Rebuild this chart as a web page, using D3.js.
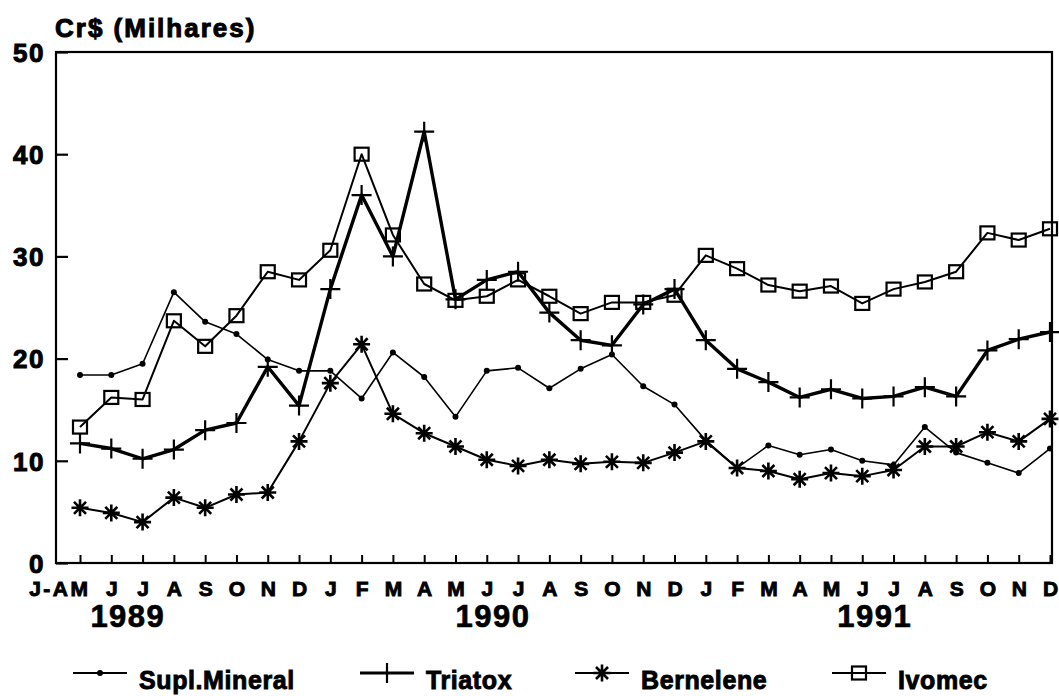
<!DOCTYPE html>
<html lang="pt">
  <head>
    <meta charset="UTF-8" />
    <title>Cr$ (Milhares)</title>
    <style>
      body { margin: 0; background: #fff; }
      text { font-family: "Liberation Sans", Arial, sans-serif; font-weight: bold; fill: #000; }
    </style>
  </head>
  <body>
    <svg width="1059" height="696" xmlns="http://www.w3.org/2000/svg"></svg>
    <script src="https://cdn.jsdelivr.net/npm/d3@7/dist/d3.min.js"></script>
    <script>
      // months from J-AM 1989 to D 1991
      const months = ["J-AM", "J", "J", "A", "S", "O", "N", "D",
        "J", "F", "M", "A", "M", "J", "J", "A", "S", "O", "N", "D",
        "J", "F", "M", "A", "M", "J", "J", "A", "S", "O", "N", "D"];
      const years = ["1989", "1990", "1991"];
      const yearPos = [1.53, 13.2, 25.4]; // in month units
      const yTicks = [0, 10, 20, 30, 40, 50];

      const suplMineral = [18.4, 18.4, 19.5, 26.5, 23.6, 22.4, 19.9, 18.8, 18.8, 16.1, 20.6, 18.2, 14.3, 18.8, 19.1, 17.1,
        19.0, 20.4, 17.3, 15.5, 12.0, 9.3, 11.5, 10.6, 11.1, 10.0, 9.6, 13.3, 10.8, 9.8, 8.8, 11.2];
      const triatox = [11.7, 11.2, 10.2, 11.1, 13.0, 13.7, 19.2, 15.4, 26.8, 36.0, 30.0, 42.2, 25.8, 27.7, 28.5, 24.5,
        21.8, 21.3, 25.3, 26.8, 21.8, 19.0, 17.7, 16.2, 17.0, 16.1, 16.3, 17.2, 16.3, 20.8, 21.9, 22.6];
      const bernelene = [5.4, 4.9, 4.0, 6.4, 5.4, 6.7, 6.9, 11.9, 17.6, 21.4, 14.6, 12.7, 11.4, 10.1, 9.5, 10.1,
        9.7, 9.9, 9.8, 10.8, 11.9, 9.3, 9.0, 8.2, 8.8, 8.5, 9.1, 11.4, 11.4, 12.8, 11.9, 14.1];
      const ivomec = [13.3, 16.2, 16.0, 23.7, 21.2, 24.2, 28.5, 27.7, 30.6, 40.0, 32.1, 27.3, 25.7, 26.1, 27.7, 26.1,
        24.4, 25.5, 25.5, 26.2, 30.1, 28.8, 27.2, 26.6, 27.1, 25.4, 26.8, 27.5, 28.5, 32.3, 31.6, 32.7];

      const seriesNames = ["Supl.Mineral", "Triatox", "Bernelene", "Ivomec"];

      const series = [
        { name: seriesNames[0], values: suplMineral, width: 1.6, marker: "dot" },
        { name: seriesNames[1], values: triatox, width: 3.4, marker: "plus" },
        { name: seriesNames[2], values: bernelene, width: 2, marker: "star" },
        { name: seriesNames[3], values: ivomec, width: 2, marker: "square" }
      ];

      const plotLeft = 56, plotRight = 1052, plotTop = 52, plotBottom = 563;
      const svg = d3.select("svg");

      const x = d3.scaleLinear().domain([0, months.length - 1]).range([80, 1050]);
      const y = d3.scaleLinear().domain([0, 50]).range([plotBottom, plotTop]);

      // frame
      svg.append("rect")
        .attr("x", plotLeft).attr("y", plotTop)
        .attr("width", plotRight - plotLeft).attr("height", plotBottom - plotTop)
        .attr("fill", "none").attr("stroke", "#000").attr("stroke-width", 2.2);

      // y axis
      const yAxis = svg.append("g")
        .attr("transform", `translate(${plotLeft},0)`)
        .call(d3.axisLeft(y).tickValues(yTicks).tickSizeInner(-12).tickSizeOuter(0).tickPadding(11));
      yAxis.select(".domain").remove();
      yAxis.selectAll("line").attr("stroke-width", 2.2);
      yAxis.selectAll("text")
        .attr("font-size", 26).attr("stroke", "#000").attr("stroke-width", 1)
        .attr("dy", "0.36em").attr("letter-spacing", 1.5)
        .style("font-family", "'Liberation Sans', Arial, sans-serif").style("font-weight", "bold");

      // x axis
      const xAxis = svg.append("g")
        .attr("transform", `translate(0,${plotBottom})`)
        .call(d3.axisBottom(x).tickValues(d3.range(months.length))
          .tickFormat(i => months[i]).tickSizeInner(-8).tickSizeOuter(0).tickPadding(18));
      xAxis.select(".domain").remove();
      xAxis.selectAll("line").attr("stroke-width", 2);
      xAxis.selectAll("text")
        .attr("font-size", 21).attr("stroke", "#000").attr("stroke-width", 0.9)
        .attr("letter-spacing", (d, i) => i === 0 ? 2.5 : 0)
        .style("font-family", "'Liberation Sans', Arial, sans-serif").style("font-weight", "bold")
        .attr("text-anchor", (d, i) => i === 0 ? "end" : "middle")
        .attr("dx", (d, i) => i === 0 ? 10 : 0);

      // year labels
      svg.selectAll(".year").data(years).join("text")
        .attr("class", "year")
        .attr("x", (d, i) => x(yearPos[i]))
        .attr("y", 627)
        .attr("text-anchor", "middle")
        .attr("font-size", 31).attr("letter-spacing", 1.5)
        .attr("stroke", "#000").attr("stroke-width", 0.7)
        .text(d => d);

      // title
      svg.append("text")
        .attr("x", 55).attr("y", 37)
        .attr("font-size", 26).attr("letter-spacing", 2)
        .attr("stroke", "#000").attr("stroke-width", 1)
        .text("Cr$ (Milhares)");

      function drawMarker(g, type) {
        if (type === "dot") {
          g.append("circle").attr("r", 3).attr("fill", "#000");
        } else if (type === "plus") {
          g.append("path").attr("d", "M-10,0H10M0,-10V10")
            .attr("stroke", "#000").attr("stroke-width", 2.2).attr("fill", "none");
        } else if (type === "star") {
          const r = 8.5;
          let d = "";
          for (let k = 0; k < 4; k++) {
            const a = k * Math.PI / 4;
            d += `M${-r * Math.cos(a)},${-r * Math.sin(a)}L${r * Math.cos(a)},${r * Math.sin(a)}`;
          }
          g.append("path").attr("d", d)
            .attr("stroke", "#000").attr("stroke-width", 2.6).attr("fill", "none");
        } else if (type === "square") {
          g.append("rect").attr("x", -7).attr("y", -6.5).attr("width", 14).attr("height", 13)
            .attr("stroke", "#000").attr("stroke-width", 2.2).attr("fill", "none");
        }
      }

      const line = d3.line().x((d, i) => x(i)).y(d => y(d));

      series.forEach(s => {
        svg.append("path")
          .attr("d", line(s.values))
          .attr("fill", "none").attr("stroke", "#000")
          .attr("stroke-width", s.width).attr("stroke-linejoin", "round");
        s.values.forEach((v, i) => {
          const g = svg.append("g").attr("transform", `translate(${x(i)},${y(v)})`);
          drawMarker(g, s.marker);
        });
      });

      // legend
      const legendX = [73, 360, 575, 832];
      const legendY = 673;
      series.forEach((s, i) => {
        const g = svg.append("g").attr("transform", `translate(${legendX[i]},${legendY})`);
        g.append("line").attr("x1", 0).attr("x2", 54).attr("y1", 0).attr("y2", 0)
          .attr("stroke", "#000").attr("stroke-width", s.width > 3 ? 3 : 1.8);
        const m = g.append("g").attr("transform", "translate(27,0)");
        drawMarker(m, s.marker);
        g.append("text")
          .attr("x", 66).attr("y", 16)
          .attr("font-size", 25).attr("letter-spacing", 0.6)
          .attr("stroke", "#000").attr("stroke-width", 0.9)
          .text(s.name);
      });
    </script>
  </body>
</html>
